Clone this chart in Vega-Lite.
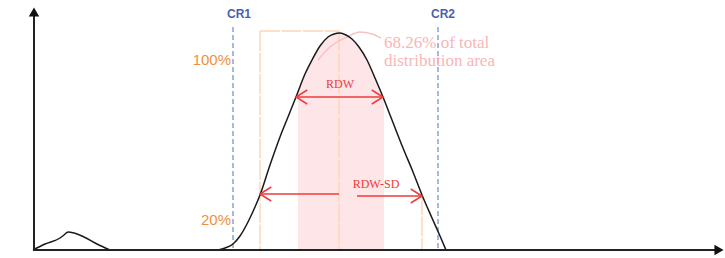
{
  "$schema": "https://vega.github.io/schema/vega-lite/v6.json",
  "width": 725,
  "height": 258,
  "padding": 0,
  "autosize": {"type": "fit", "contains": "padding"},
  "background": "white",
  "config": {"view": {"stroke": null}},
  "datasets": {
    "curve": [
      {"x": 218, "h": 0}, {"x": 225, "h": 2}, {"x": 233, "h": 6}, {"x": 240, "h": 14},
      {"x": 248, "h": 28}, {"x": 255, "h": 43}, {"x": 260, "h": 55}, {"x": 270, "h": 85},
      {"x": 280, "h": 113}, {"x": 288, "h": 133}, {"x": 296, "h": 153}, {"x": 305, "h": 176},
      {"x": 312, "h": 190}, {"x": 320, "h": 204}, {"x": 328, "h": 213}, {"x": 334, "h": 216},
      {"x": 340, "h": 217}, {"x": 346, "h": 215}, {"x": 352, "h": 211}, {"x": 359, "h": 203},
      {"x": 367, "h": 190}, {"x": 375, "h": 172}, {"x": 383, "h": 153}, {"x": 392, "h": 130},
      {"x": 403, "h": 102}, {"x": 413, "h": 78}, {"x": 422, "h": 55}, {"x": 432, "h": 32},
      {"x": 440, "h": 14}, {"x": 446, "h": 0}
    ],
    "band": [
      {"x": 298, "h": 158}, {"x": 305, "h": 176}, {"x": 312, "h": 190}, {"x": 320, "h": 204},
      {"x": 328, "h": 213}, {"x": 334, "h": 216}, {"x": 340, "h": 217}, {"x": 346, "h": 215},
      {"x": 352, "h": 211}, {"x": 359, "h": 203}, {"x": 367, "h": 190}, {"x": 375, "h": 172},
      {"x": 384, "h": 151}
    ],
    "bump": [
      {"x": 33, "h": 0}, {"x": 45, "h": 6}, {"x": 60, "h": 12}, {"x": 64, "h": 15},
      {"x": 68, "h": 18}, {"x": 74, "h": 17}, {"x": 84, "h": 13}, {"x": 97, "h": 6}, {"x": 110, "h": 0}
    ],
    "callout": [
      {"x": 318, "h": 190}, {"x": 330, "h": 203}, {"x": 347, "h": 213}, {"x": 360, "h": 218},
      {"x": 372, "h": 216}, {"x": 381, "h": 212}
    ],
    "axes": [
      {"x": 34, "x2": 34, "h": 0, "h2": 236},
      {"x": 33, "x2": 716, "h": 0, "h2": 0}
    ],
    "axisHeads": [
      {"x": 34, "h": 238, "dir": "up"},
      {"x": 719, "h": 0, "dir": "right"}
    ],
    "crLines": [
      {"x": 233, "x2": 233, "h": 223, "h2": 0},
      {"x": 438, "x2": 438, "h": 223, "h2": 0}
    ],
    "orangeLines": [
      {"x": 260, "x2": 260, "h": 219, "h2": 0},
      {"x": 339, "x2": 339, "h": 219, "h2": 0},
      {"x": 422, "x2": 422, "h": 55, "h2": 0},
      {"x": 260, "x2": 339, "h": 219, "h2": 219}
    ],
    "redLines": [
      {"x": 296, "x2": 383, "h": 153, "h2": 153},
      {"x": 260, "x2": 339, "h": 56, "h2": 56},
      {"x": 357, "x2": 422, "h": 54, "h2": 54}
    ],
    "arrowHeads": [
      {"x": 296, "h": 153, "dir": "left"},
      {"x": 260, "h": 56, "dir": "left"},
      {"x": 383, "h": 153, "dir": "right"},
      {"x": 422, "h": 54, "dir": "right"}
    ],
    "crLabels": [
      {"x": 239, "h": 236, "label": "CR1"},
      {"x": 443, "h": 236, "label": "CR2"}
    ],
    "pctLabels": [
      {"x": 231, "h": 190, "label": "100%"},
      {"x": 231, "h": 30, "label": "20%"}
    ],
    "redLabels": [
      {"x": 340, "h": 166, "label": "RDW"},
      {"x": 376, "h": 66, "label": "RDW-SD"}
    ],
    "noteLabels": [
      {"x": 384, "h": 207, "label": "68.26% of total"},
      {"x": 384, "h": 189, "label": "distribution area"}
    ]
  },
  "encoding": {
    "x": {"field": "x", "type": "quantitative", "scale": {"domain": [0, 725], "nice": false, "zero": false}, "axis": null},
    "y": {"field": "h", "type": "quantitative", "scale": {"domain": [-8, 250], "nice": false, "zero": false}, "axis": null}
  },
  "layer": [
    {
      "data": {"name": "band"},
      "mark": {"type": "area", "color": "#fde5e8", "interpolate": "monotone"},
      "encoding": {"y2": {"datum": 0}}
    },
    {
      "data": {"name": "orangeLines"},
      "mark": {"type": "rule", "color": "#fbd6b8", "strokeWidth": 1.5, "strokeDash": [20, 1.5]},
      "encoding": {"x2": {"field": "x2"}, "y2": {"field": "h2"}}
    },
    {
      "data": {"name": "crLines"},
      "mark": {"type": "rule", "color": "#4a72c4", "strokeWidth": 1, "strokeDash": [5, 3]},
      "encoding": {"x2": {"field": "x2"}, "y2": {"field": "h2"}}
    },
    {
      "data": {"name": "callout"},
      "mark": {"type": "line", "color": "#f8c2c2", "strokeWidth": 1.5, "interpolate": "monotone"}
    },
    {
      "data": {"name": "curve"},
      "mark": {"type": "line", "color": "#1a1a1a", "strokeWidth": 1.5, "interpolate": "monotone"}
    },
    {
      "data": {"name": "bump"},
      "mark": {"type": "line", "color": "#1a1a1a", "strokeWidth": 1.5, "interpolate": "monotone"}
    },
    {
      "data": {"name": "axes"},
      "mark": {"type": "rule", "color": "#222222", "strokeWidth": 2},
      "encoding": {"x2": {"field": "x2"}, "y2": {"field": "h2"}}
    },
    {
      "data": {"name": "axisHeads"},
      "transform": [{"filter": "datum.dir === 'up'"}],
      "mark": {"type": "point", "shape": "triangle-up", "filled": true, "color": "#111111", "size": 110, "opacity": 1}
    },
    {
      "data": {"name": "axisHeads"},
      "transform": [{"filter": "datum.dir === 'right'"}],
      "mark": {"type": "point", "shape": "triangle-right", "filled": true, "color": "#111111", "size": 110, "opacity": 1}
    },
    {
      "data": {"name": "redLines"},
      "mark": {"type": "rule", "color": "#ee3b3b", "strokeWidth": 1.5},
      "encoding": {"x2": {"field": "x2"}, "y2": {"field": "h2"}}
    },
    {
      "data": {"name": "arrowHeads"},
      "transform": [{"filter": "datum.dir === 'left'"}],
      "mark": {"type": "point", "shape": "M 1.6 -1 L 0 0 L 1.6 1", "filled": false, "color": "#ee3b3b", "strokeWidth": 1.5, "size": 196, "opacity": 1}
    },
    {
      "data": {"name": "arrowHeads"},
      "transform": [{"filter": "datum.dir === 'right'"}],
      "mark": {"type": "point", "shape": "M -1.6 -1 L 0 0 L -1.6 1", "filled": false, "color": "#ee3b3b", "strokeWidth": 1.5, "size": 196, "opacity": 1}
    },
    {
      "data": {"name": "crLabels"},
      "mark": {"type": "text", "font": "Liberation Sans", "fontWeight": "bold", "fontSize": 12, "color": "#4a5fb0", "align": "center", "baseline": "middle"},
      "encoding": {"text": {"field": "label"}}
    },
    {
      "data": {"name": "pctLabels"},
      "mark": {"type": "text", "font": "Liberation Sans", "fontSize": 15, "color": "#f0903c", "align": "right", "baseline": "middle"},
      "encoding": {"text": {"field": "label"}}
    },
    {
      "data": {"name": "redLabels"},
      "mark": {"type": "text", "font": "Liberation Serif", "fontSize": 12, "color": "#ee3b3b", "align": "center", "baseline": "middle"},
      "encoding": {"text": {"field": "label"}}
    },
    {
      "data": {"name": "noteLabels"},
      "mark": {"type": "text", "font": "Liberation Serif", "fontSize": 17, "color": "#f8b6b6", "align": "left", "baseline": "middle"},
      "encoding": {"text": {"field": "label"}}
    }
  ]
}
